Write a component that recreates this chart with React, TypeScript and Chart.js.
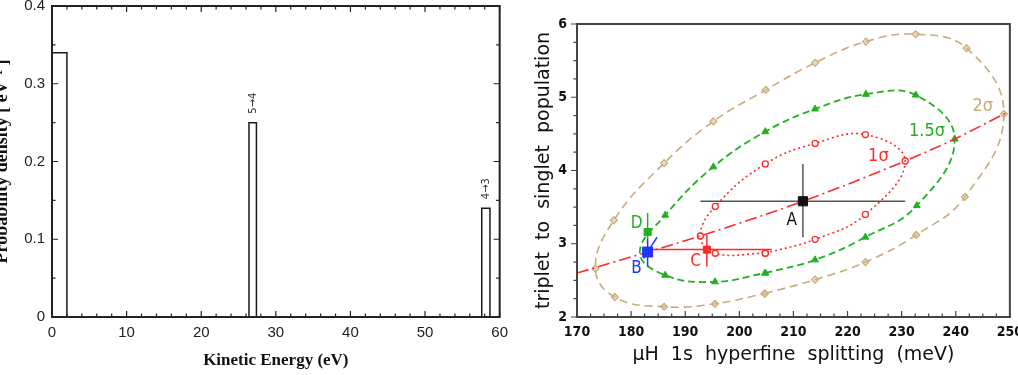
import React, { useEffect, useRef } from 'react';
import { Chart, registerables } from 'chart.js';

Chart.register(...registerables);

// ---------- Kinetic energy spectrum (left panel) ----------
const energyTicks = [0, 10, 20, 30, 40, 50, 60];
const densityTicks = [0, 0.1, 0.2, 0.3, 0.4];
const binStart = [0, 26.4, 57.6];
const binEnd = [2.0, 27.4, 58.7];
const density = [0.34, 0.25, 0.14];
const binLabels = ['', '5→4', '4→3'];

// ---------- Hyperfine splitting vs. population ratio (right panel) ----------
const splittingTicks = [170, 180, 190, 200, 210, 220, 230, 240, 250];
const populationTicks = [2, 3, 4, 5, 6];

// 2σ contour
const sigma2X = [204.7, 214.0, 223.3, 232.7, 241.7, 248.9, 242.0, 232.6, 223.4, 214.0, 204.9, 195.2, 186.1, 176.8, 173.4, 177.0, 186.1, 195.5, 204.7];
const sigma2Y = [2.32, 2.51, 2.75, 3.12, 3.64, 4.77, 5.67, 5.86, 5.76, 5.47, 5.10, 4.67, 4.10, 3.32, 2.66, 2.27, 2.14, 2.18, 2.32];

// 1.5σ contour (the vertex near B carries no marker)
const sigma15X = [204.8, 214.0, 223.3, 232.8, 239.8, 232.6, 223.4, 214.0, 204.8, 195.2, 186.3, 181.6, 186.3, 195.5, 204.8];
const sigma15Y = [2.60, 2.78, 3.09, 3.52, 4.43, 5.03, 5.04, 4.84, 4.53, 4.05, 3.39, 2.88, 2.57, 2.48, 2.60];
const sigma15Marked = [1, 1, 1, 1, 1, 1, 1, 1, 1, 1, 1, 0, 1, 1, 1];

// 1σ contour
const sigma1X = [204.8, 214.0, 223.3, 230.65, 223.3, 214.0, 204.8, 195.55, 192.8, 195.55, 204.8];
const sigma1Y = [2.87, 3.06, 3.40, 4.13, 4.49, 4.37, 4.09, 3.51, 3.106, 2.87, 2.87];

// correlation line
const fitX = [170, 173.4, 183.05, 192.8, 211.75, 230.65, 239.8, 248.9, 250];
const fitY = [2.60, 2.675, 2.887, 3.106, 3.58, 4.13, 4.43, 4.77, 4.81];

// labelled points with their error bars
const pointNames = ['A', 'B', 'C', 'D'];
const pointX = [211.75, 183.05, 194.0, 183.05];
const pointY = [3.58, 2.887, 2.92, 3.16];
const xErrLo = [192.8, null, 183.05, null];
const xErrHi = [230.65, null, 206.0, null];
const yErrLo = [3.09, 2.69, 2.69, 3.07];
const yErrHi = [4.09, 3.07, 3.12, 3.42];
const nameX = [209.7, 181.0, 191.9, 181.0];
const nameY = [3.32, 2.66, 2.75, 3.27];
const slantX = [182.3, 184.8];
const slantY = [2.80, 3.09];

const contourNames = ['2σ', '1.5σ', '1σ'];
const contourNameX = [245.0, 234.7, 225.7];
const contourNameY = [4.87, 4.53, 4.19];

const TAN = '#c8ab78';
const GREEN = '#22b022';
const RED = '#ff2b2b';
const BLUE = '#2233ff';
const pointColors = ['#111111', BLUE, RED, GREEN];
const barColors = ['#555555', BLUE, RED, GREEN];
const pointRadii = [6.5, 7, 5, 5];
const contourColors = [TAN, GREEN, RED];

const xy = (xs: number[], ys: number[]) => xs.map((x, i) => ({ x, y: ys[i] }));

type FrameCfg = {
  color: string;
  width: number;
  tickWidth: number;
  xMinor: number;
  yMinor: number;
  major: number;
  minor: number;
  yInward: boolean;
  mirror: boolean;
};

function framePlugin(cfg: FrameCfg) {
  return {
    id: 'frameTicks',
    afterDatasetsDraw(chart: any) {
      const { ctx, chartArea: a, scales } = chart;
      const xs = scales.x;
      const ys = scales.y;
      const isMajor = (scale: any, v: number) => scale.ticks.some((t: any) => Math.abs(t.value - v) < 1e-6);
      ctx.save();
      ctx.strokeStyle = cfg.color;
      ctx.lineWidth = cfg.tickWidth;
      ctx.beginPath();
      const nx = Math.round((xs.max - xs.min) / cfg.xMinor);
      for (let i = 0; i <= nx; i++) {
        const v = xs.min + i * cfg.xMinor;
        const len = isMajor(xs, v) ? cfg.major : cfg.minor;
        const px = xs.getPixelForValue(v);
        ctx.moveTo(px, a.bottom);
        ctx.lineTo(px, a.bottom - len);
        if (cfg.mirror) {
          ctx.moveTo(px, a.top);
          ctx.lineTo(px, a.top + len);
        }
      }
      const ny = Math.round((ys.max - ys.min) / cfg.yMinor);
      for (let i = 0; i <= ny; i++) {
        const v = ys.min + i * cfg.yMinor;
        const len = isMajor(ys, v) ? cfg.major : cfg.minor;
        const py = ys.getPixelForValue(v);
        ctx.moveTo(a.left, py);
        ctx.lineTo(cfg.yInward ? a.left + len : a.left - len, py);
        if (cfg.mirror) {
          ctx.moveTo(a.right, py);
          ctx.lineTo(a.right - len, py);
        }
      }
      ctx.stroke();
      ctx.lineWidth = cfg.width;
      ctx.strokeRect(a.left, a.top, a.right - a.left, a.bottom - a.top);
      ctx.restore();
    },
  };
}

const binLabelPlugin = {
  id: 'binLabels',
  afterDatasetsDraw(chart: any) {
    const { ctx, scales } = chart;
    ctx.save();
    ctx.fillStyle = '#333';
    ctx.font = '11px "DejaVu Sans Condensed", "DejaVu Sans", sans-serif';
    ctx.textAlign = 'left';
    ctx.textBaseline = 'middle';
    binLabels.forEach((t, i) => {
      if (!t) return;
      const px = scales.x.getPixelForValue((binStart[i] + binEnd[i]) / 2);
      const py = scales.y.getPixelForValue(density[i]) - 9;
      ctx.save();
      ctx.translate(px, py);
      ctx.rotate(-Math.PI / 2);
      ctx.fillText(t, 0, 0);
      ctx.restore();
    });
    ctx.restore();
  },
};

const nameLabelPlugin = {
  id: 'nameLabels',
  afterDatasetsDraw(chart: any) {
    const { ctx, scales } = chart;
    ctx.save();
    ctx.textAlign = 'center';
    ctx.textBaseline = 'middle';
    ctx.font = '17px "DejaVu Sans Condensed", "DejaVu Sans", sans-serif';
    pointNames.forEach((n, i) => {
      ctx.fillStyle = pointColors[i];
      ctx.fillText(n, scales.x.getPixelForValue(nameX[i]), scales.y.getPixelForValue(nameY[i]));
    });
    ctx.font = '18px "DejaVu Sans Condensed", "DejaVu Sans", sans-serif';
    contourNames.forEach((n, i) => {
      ctx.fillStyle = contourColors[i];
      ctx.fillText(n, scales.x.getPixelForValue(contourNameX[i]), scales.y.getPixelForValue(contourNameY[i]));
    });
    ctx.restore();
  },
};

function leftConfig(): any {
  return {
    type: 'scatter',
    data: {
      datasets: binStart.map((s, i) => ({
        data: [
          { x: s, y: 0 },
          { x: s, y: density[i] },
          { x: binEnd[i], y: density[i] },
          { x: binEnd[i], y: 0 },
        ],
        showLine: true,
        borderColor: '#1a1a1a',
        borderWidth: 1.5,
        pointRadius: 0,
        tension: 0,
      })),
    },
    options: {
      animation: false,
      responsive: true,
      maintainAspectRatio: false,
      layout: { padding: { left: 0, right: 11, top: 13, bottom: 0 } },
      plugins: { legend: { display: false }, tooltip: { enabled: false } },
      scales: {
        x: {
          type: 'linear',
          min: 0,
          max: 60,
          afterBuildTicks: (s: any) => { s.ticks = energyTicks.map((v) => ({ value: v })); },
          afterFit: (s: any) => { s.height = 58; },
          grid: { display: false, drawTicks: false },
          border: { display: false },
          ticks: { font: { family: '"Liberation Sans", Arial, sans-serif', size: 15 }, color: '#222', padding: 7, maxRotation: 0 },
          title: {
            display: true,
            text: 'Kinetic Energy (eV)',
            font: { family: '"Liberation Serif", "Times New Roman", serif', size: 17, weight: 'bold' },
            color: '#111',
            padding: { top: 0, bottom: 3.8 },
          },
        },
        y: {
          type: 'linear',
          min: 0,
          max: 0.4,
          afterBuildTicks: (s: any) => { s.ticks = densityTicks.map((v) => ({ value: v })); },
          afterFit: (s: any) => { s.width = 52; },
          grid: { display: false, drawTicks: false },
          border: { display: false },
          ticks: { font: { family: '"Liberation Sans", Arial, sans-serif', size: 15 }, color: '#222', padding: 7 },
          title: {
            display: true,
            text: 'Probability density [ eV⁻¹ ]',
            font: { family: '"Liberation Serif", "Times New Roman", serif', size: 18, weight: 'bold' },
            color: '#111',
            padding: { top: -8.3, bottom: 0 },
          },
        },
      },
    },
    plugins: [
      framePlugin({ color: '#222', width: 2, tickWidth: 1.2, xMinor: 2, yMinor: 0.05, major: 6, minor: 3.5, yInward: true, mirror: true }),
      binLabelPlugin,
    ],
  };
}

function rightConfig(): any {
  const markers = pointNames.map((_, i) => ({
    data: [{ x: pointX[i], y: pointY[i] }],
    showLine: false,
    pointStyle: 'rect',
    pointRadius: pointRadii[i],
    pointBackgroundColor: pointColors[i],
    pointBorderColor: pointColors[i],
    pointBorderWidth: 1,
  }));
  const bars: any[] = [];
  pointNames.forEach((_, i) => {
    if (xErrLo[i] !== null) {
      bars.push({
        data: [{ x: xErrLo[i], y: pointY[i] }, { x: xErrHi[i], y: pointY[i] }],
        showLine: true, pointRadius: 0, borderColor: barColors[i], borderWidth: 1.5,
      });
    }
    bars.push({
      data: [{ x: pointX[i], y: yErrLo[i] }, { x: pointX[i], y: yErrHi[i] }],
      showLine: true, pointRadius: 0, borderColor: barColors[i], borderWidth: 1.5,
    });
  });
  bars.push({
    data: xy(slantX, slantY),
    showLine: true, pointRadius: 0, borderColor: BLUE, borderWidth: 1.5,
  });

  const fitLine = {
    data: xy(fitX, fitY),
    showLine: true,
    pointRadius: 0,
    borderColor: RED,
    borderWidth: 1.6,
    borderDash: [12, 4, 2, 4],
    cubicInterpolationMode: 'monotone',
  };

  const sigma1 = {
    data: xy(sigma1X, sigma1Y),
    showLine: true,
    tension: 0.42,
    borderColor: RED,
    borderWidth: 1.6,
    borderDash: [2, 3],
    pointStyle: 'circle',
    pointRadius: 3,
    pointBorderColor: RED,
    pointBackgroundColor: '#ffffff',
    pointBorderWidth: 1.3,
  };
  const sigma15 = {
    data: xy(sigma15X, sigma15Y),
    showLine: true,
    tension: 0.42,
    borderColor: GREEN,
    borderWidth: 1.8,
    borderDash: [7, 4],
    pointStyle: 'triangle',
    pointRadius: sigma15Marked.map((m) => (m ? 4 : 0)),
    pointBorderColor: GREEN,
    pointBackgroundColor: GREEN,
    pointBorderWidth: 1,
  };
  const sigma2 = {
    data: xy(sigma2X, sigma2Y),
    showLine: true,
    tension: 0.42,
    borderColor: TAN,
    borderWidth: 1.6,
    borderDash: [8, 5],
    pointStyle: 'rectRot',
    pointRadius: 3.5,
    pointBorderColor: TAN,
    pointBackgroundColor: 'rgba(215,190,140,0.55)',
    pointBorderWidth: 1.2,
  };

  const tickFont = { family: '"Liberation Sans Narrow", "DejaVu Sans Condensed", Arial, sans-serif', size: 14, weight: 'bold' };
  const titleFont = { family: '"DejaVu Sans", sans-serif', size: 19 };

  return {
    type: 'scatter',
    data: { datasets: [...markers, ...bars, fitLine, sigma1, sigma15, sigma2] },
    options: {
      animation: false,
      responsive: true,
      maintainAspectRatio: false,
      layout: { padding: { left: 0, right: 20, top: 24, bottom: 0 } },
      plugins: { legend: { display: false }, tooltip: { enabled: false } },
      scales: {
        x: {
          type: 'linear',
          min: 170,
          max: 250,
          afterBuildTicks: (s: any) => { s.ticks = splittingTicks.map((v) => ({ value: v })); },
          afterFit: (s: any) => { s.height = 58; },
          grid: { display: false, drawTicks: false },
          border: { display: false },
          ticks: { font: tickFont, color: '#111', padding: 7, maxRotation: 0 },
          title: {
            display: true,
            text: 'μH  1s  hyperfine  splitting  (meV)',
            font: titleFont,
            color: '#111',
            padding: { top: 0, bottom: 8.6 },
          },
        },
        y: {
          type: 'linear',
          min: 2,
          max: 6,
          afterBuildTicks: (s: any) => { s.ticks = populationTicks.map((v) => ({ value: v })); },
          afterFit: (s: any) => { s.width = 62; },
          grid: { display: false, drawTicks: false },
          border: { display: false },
          ticks: { font: tickFont, color: '#111', padding: 10 },
          title: {
            display: true,
            text: 'triplet  to  singlet  population',
            font: titleFont,
            color: '#111',
            padding: { top: 17.6, bottom: 0 },
          },
        },
      },
    },
    plugins: [
      framePlugin({ color: '#444', width: 2, tickWidth: 1.2, xMinor: 2.5, yMinor: 0.25, major: 6, minor: 3.5, yInward: false, mirror: false }),
      nameLabelPlugin,
    ],
  };
}

export default function App() {
  const leftRef = useRef<HTMLCanvasElement>(null);
  const rightRef = useRef<HTMLCanvasElement>(null);

  useEffect(() => {
    const left = new Chart(leftRef.current as HTMLCanvasElement, leftConfig());
    const right = new Chart(rightRef.current as HTMLCanvasElement, rightConfig());
    return () => {
      left.destroy();
      right.destroy();
    };
  }, []);

  return (
    <div style={{ position: 'absolute', left: 0, top: 0, width: 1018, height: 375, overflow: 'hidden', background: '#fff' }}>
      <div style={{ position: 'absolute', left: 0, top: -10, width: 515, height: 385 }}>
        <canvas ref={leftRef} />
      </div>
      <div style={{ position: 'absolute', left: 515, top: 0, width: 515, height: 375 }}>
        <canvas ref={rightRef} />
      </div>
    </div>
  );
}
